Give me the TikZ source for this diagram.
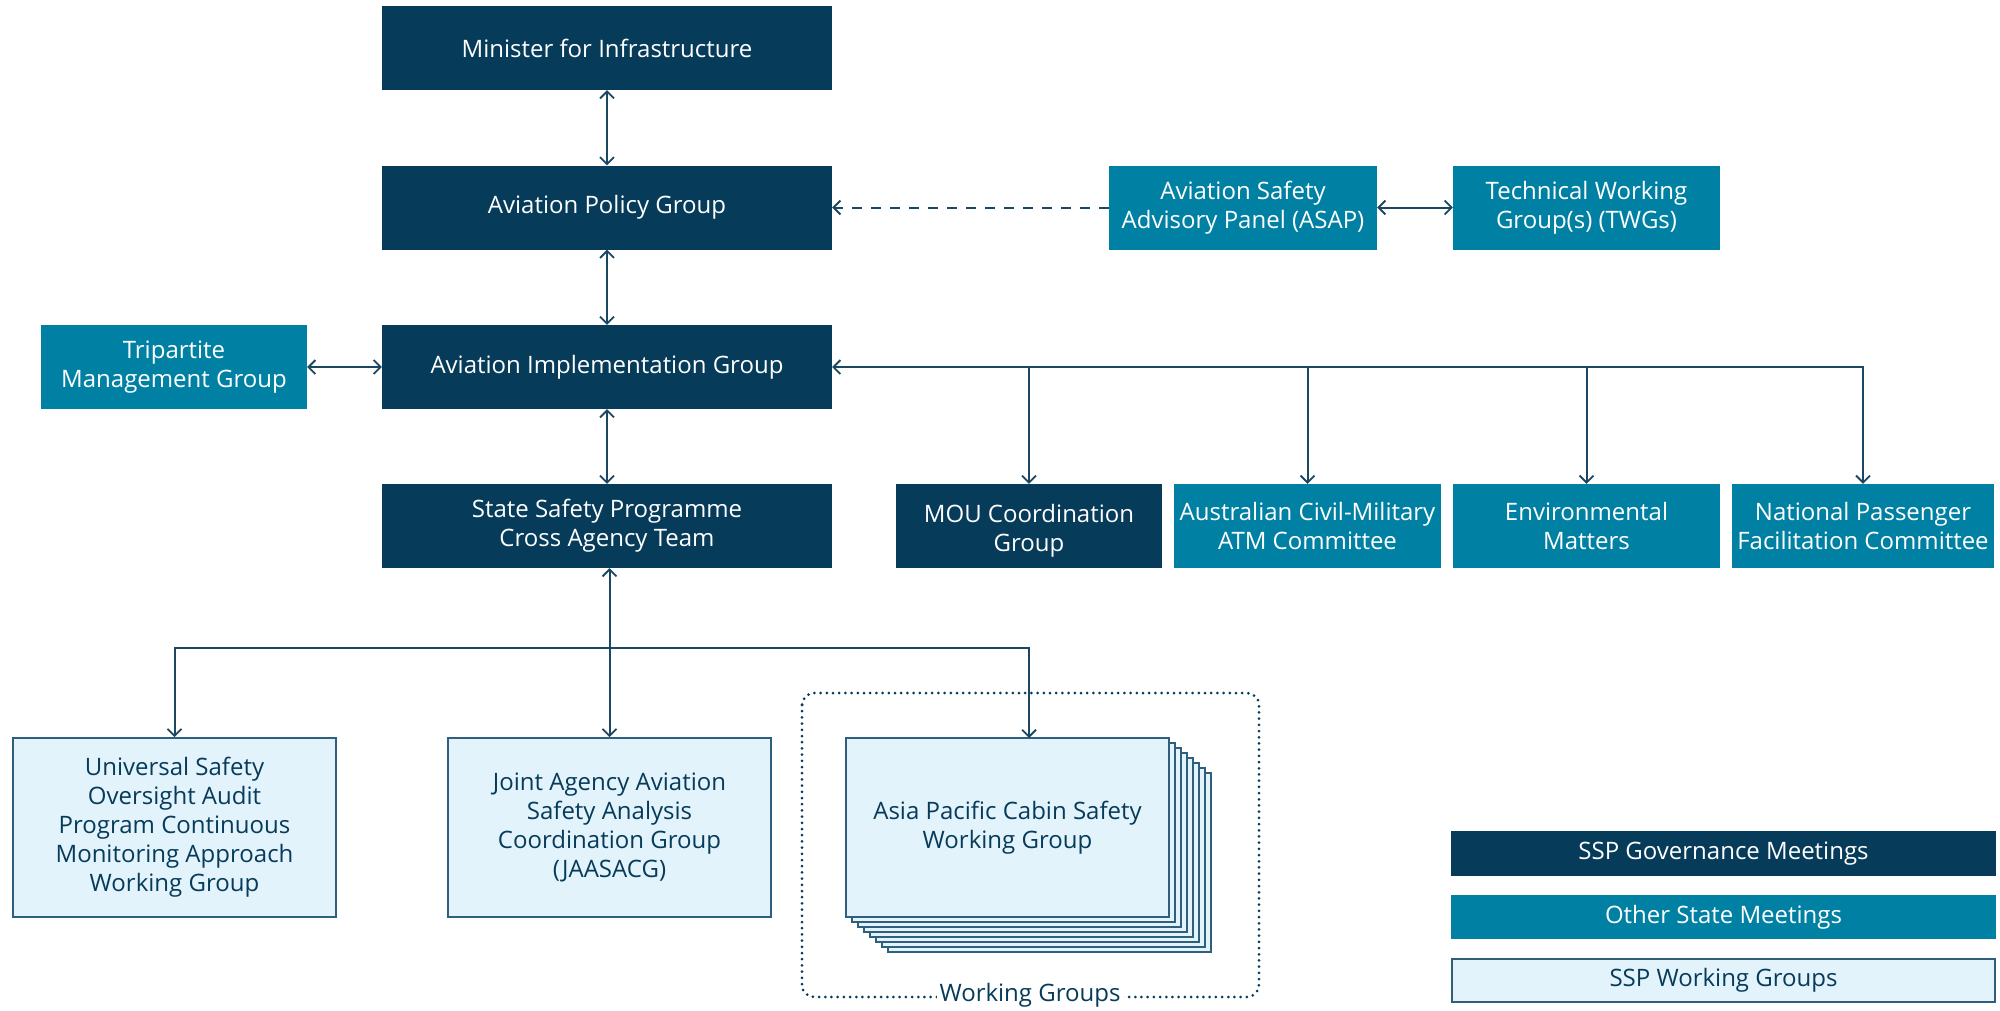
\documentclass[tikz,border=0pt]{standalone}
\usepackage{fontspec}
\setmainfont{Open Sans}
\usetikzlibrary{arrows.meta,positioning}
\definecolor{navy}{HTML}{063B59}
\definecolor{teal}{HTML}{0081A3}
\definecolor{lightfill}{HTML}{E3F3FC}
\definecolor{lightedge}{HTML}{2F5F7A}
\definecolor{linecol}{HTML}{1B4762}
\tikzset{
  basebox/.style={rectangle, inner sep=0pt, align=center, font=\fontsize{24}{29}\selectfont},
  govbox/.style={basebox, fill=navy, text=white, minimum height=84pt},
  otherbox/.style={basebox, fill=teal, text=white, minimum height=84pt},
  wgbox/.style={basebox, fill=lightfill, draw=lightedge, line width=1.6pt, text=navy, minimum width=323pt, minimum height=179pt},
  layer/.style={fill=lightfill, draw=lightedge, line width=1.4pt},
  conn/.style={draw=linecol, line width=2pt, arrows={-}},
  tip/.tip={Straight Barb[length=7pt,width=14pt,line width=1.8pt]},
  dotbox/.style={draw=navy, line width=3pt, line cap=round, dash pattern=on 0pt off 6.2pt, rounded corners=12pt},
}
\begin{document}
\begin{tikzpicture}[x=1pt,y=-1pt]
\useasboundingbox (0,0) rectangle (2000,1010);
% governance column
\node[govbox, minimum width=450pt] (minister) at (607,48) {Minister for Infrastructure};
\node[govbox, minimum width=450pt] (policy) at (607,207.5) {Aviation Policy Group};
\node[govbox, minimum width=450pt] (impl) at (607,367) {Aviation Implementation Group};
\node[govbox, minimum width=450pt] (ssp) at (607,526) {State Safety Programme\\Cross Agency Team};
% other state meetings
\node[otherbox, minimum width=266pt] (trip) at (174,367) {Tripartite\\Management Group};
\node[otherbox, minimum width=268pt] (asap) at (1243,207.5) {Aviation Safety\\Advisory Panel (ASAP)};
\node[otherbox, minimum width=267pt] (twg) at (1586.5,207.5) {Technical Working\\Group(s) (TWGs)};
\node[govbox, minimum width=266pt, label={[basebox, text=white, yshift=-5pt]center:MOU Coordination\\Group}] (mou) at (1029,526) {};
\node[otherbox, minimum width=267pt] (civil) at (1307.5,526) {Australian Civil-Military\\ATM Committee};
\node[otherbox, minimum width=267pt] (env) at (1586.5,526) {Environmental\\Matters};
\node[otherbox, minimum width=262pt] (natl) at (1863,526) {National Passenger\\Facilitation Committee};
% working groups
\node[wgbox] (usoap) at (174.5,827.5) {Universal Safety\\Oversight Audit\\Program Continuous\\Monitoring Approach\\Working Group};
\node[wgbox] (jaasacg) at (609.5,827.5) {Joint Agency Aviation\\Safety Analysis\\Coordination Group\\(JAASACG)};
% dotted group frame
\draw[dotbox] (802,693) rectangle (1259,997);
\node[fill=white, text=navy, inner sep=3pt, font=\fontsize{24}{29}\selectfont] (wglabel) at (1030,995) {Working Groups};
% stacked layers
\foreach \k in {7,6,...,1}{
  \draw[layer] (846+6*\k,738+5*\k) rectangle (1169+6*\k,917+5*\k);
}
\node[wgbox] (asia) at (1007.5,827.5) {Asia Pacific Cabin Safety\\Working Group};
% legend
\node[govbox, minimum width=545pt, minimum height=45pt] (leggov) at (1723.5,853.5) {SSP Governance Meetings};
\node[otherbox, minimum width=545pt, minimum height=44pt] (legoth) at (1723.5,917) {Other State Meetings};
\node[wgbox, minimum width=543pt, minimum height=43pt, line width=2pt] (legwg) at (1723.5,980.5) {SSP Working Groups};
% helper coordinates
\coordinate (bus) at (609.5,648);
\coordinate (asiatop) at (1029,738);
% connectors
\draw[conn, tip-tip] (minister.south) -- (policy.north);
\draw[conn, tip-tip] (policy.south) -- (impl.north);
\draw[conn, tip-tip] (impl.south) -- (ssp.north);
\draw[conn, tip-tip] (trip.east) -- (impl.west);
\draw[conn, tip-tip] (asap.east) -- (twg.west);
\draw[conn, -tip, dash pattern=on 10pt off 9pt] (asap.west) -- (policy.east);
\draw[conn, tip-tip] (impl.east) -| (natl.north);
\foreach \n in {mou,civil,env}{
  \draw[conn, -tip] (\n.north |- impl.east) -- (\n.north);
}
\draw[conn, tip-tip] (ssp.south -| jaasacg.north) -- (jaasacg.north);
\draw[conn, -tip] (bus) -| (usoap.north);
\draw[conn, -tip] (bus) -| (asiatop);
\end{tikzpicture}
\end{document}
